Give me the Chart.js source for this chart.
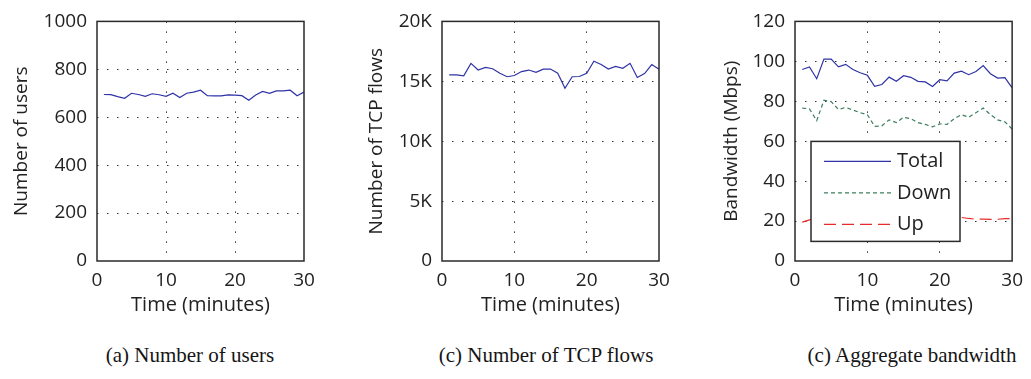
<!DOCTYPE html>
<html>
<head>
<meta charset="utf-8">
<script src="https://cdn.jsdelivr.net/npm/chart.js@4"></script>
<style>
  html, body { margin: 0; padding: 0; background: #fff; }
  body { width: 1031px; height: 379px; position: relative; overflow: hidden; }
  canvas { position: absolute; top: 0; }
  .cap { position: absolute; top: 342px; font: 21px "Liberation Serif", serif; color: #151515; line-height: 26px; white-space: nowrap; transform: translateX(-50%); }
</style>
</head>
<body>
<canvas id="c1" width="330" height="325" style="left:0px;width:330px;height:325px"></canvas>
<canvas id="c2" width="340" height="325" style="left:345px;width:340px;height:325px"></canvas>
<canvas id="c3" width="331" height="325" style="left:700px;width:331px;height:325px"></canvas>
<div class="cap" style="left:190px">(a) Number of users</div>
<div class="cap" style="left:546px">(c) Number of TCP flows</div>
<div class="cap" style="left:912px">(c) Aggregate bandwidth</div>
<script>
// ---- data ----
const minutes = [1,2,3,4,5,6,7,8,9,10,11,12,13,14,15,16,17,18,19,20,21,22,23,24,25,26,27,28,29,30];
const users = [695,694,686,679,700,695,687,698,694,687,700,682,700,705,713,690,689,689,693,692,690,671,693,708,700,710,710,713,690,705];
const tcpFlows = [15540,15540,15460,16500,15940,16160,16050,15670,15380,15480,15810,15940,15750,16020,16020,15670,14410,15380,15400,15670,16670,16400,16020,16240,16080,16500,15320,15650,16400,16000];
const bwTotal = [95.9,97.2,91.3,101.1,101.1,97.2,98.5,95.9,94.3,93.0,87.5,88.4,92.1,90.0,92.8,92.0,90.0,89.7,87.4,90.8,90.2,94.1,95.1,93.3,94.9,97.9,93.8,91.6,91.8,86.7];
const bwDown = [76.6,76.2,70.3,80.5,79.8,75.9,76.9,75.6,74.3,73.3,67.4,67.7,70.7,69.3,72.0,71.3,69.3,68.4,67.2,68.7,68.4,71.3,73.3,72.0,74.3,76.6,73.3,70.7,69.7,66.1];
const bwUp = [19.5,20.6,21.0,20.6,21.3,21.3,21.6,20.3,20.0,19.7,20.1,20.7,21.4,20.7,20.8,20.7,20.7,21.3,20.2,21.6,21.8,22.0,21.8,21.3,20.9,21.0,20.8,20.9,21.2,21.2];
const xTicks = [0,10,20,30];
const usersTicks = [0,200,400,600,800,1000];
const flowTicks = [0,5000,10000,15000,20000];
const flowTickLabels = ['0','5K','10K','15K','20K'];
const bwTicks = [0,20,40,60,80,100,120];
const seriesNames = ['Total','Down','Up'];
const xTitle = 'Time (minutes)';

// ---- styling helpers ----
const FONT = '"Open Sans", "Liberation Sans", sans-serif';
const INK = '#222222';
const BLUE = '#2f33a6';

const boxPlugin = {
  id: 'matlabBox',
  afterDraw(chart) {
    const {ctx, chartArea: a} = chart;
    ctx.save();
    ctx.strokeStyle = '#2a2a2a';
    ctx.lineWidth = 1.5;
    ctx.setLineDash([]);
    ctx.strokeRect(a.left, a.top, a.right - a.left, a.bottom - a.top);
    ctx.restore();
  }
};

const legendPlugin = {
  id: 'boxLegend',
  afterDatasetsDraw(chart) {
    const {ctx, chartArea: a} = chart;
    const x0 = a.left + 16, y0 = a.top + 120, w = 149, h = 100;
    ctx.save();
    ctx.fillStyle = '#ffffff';
    ctx.fillRect(x0, y0, w, h);
    ctx.strokeStyle = '#2a2a2a';
    ctx.lineWidth = 1.5;
    ctx.strokeRect(x0, y0, w, h);
    chart.data.datasets.forEach((ds, i) => {
      const y = y0 + 20 + i * 31.5;
      ctx.strokeStyle = ds.borderColor;
      ctx.lineWidth = ds.borderWidth;
      ctx.setLineDash(ds.borderDash || []);
      ctx.beginPath();
      ctx.moveTo(x0 + 13, y);
      ctx.lineTo(x0 + 80, y);
      ctx.stroke();
      ctx.setLineDash([]);
      ctx.fillStyle = INK;
      ctx.font = '20px ' + FONT;
      ctx.textBaseline = 'middle';
      ctx.textAlign = 'left';
      ctx.fillText(ds.label, x0 + 86, y);
    });
    ctx.restore();
  }
};

function gridColor(c) {
  const n = c.scale.ticks.length;
  return (c.index === 0 || c.index === n - 1) ? 'rgba(0,0,0,0)' : '#303030';
}

function makeChart(id, datasets, yCfg, axisWidth, yTitle, yTitlePad, rightPad, extraPlugins) {
  return new Chart(document.getElementById(id), {
    type: 'line',
    data: { datasets },
    options: {
      responsive: false,
      animation: false,
      events: [],
      layout: { padding: { top: 13, right: rightPad, bottom: 0, left: 0 } },
      elements: { point: { radius: 0 }, line: { tension: 0 } },
      plugins: { legend: { display: false }, tooltip: { enabled: false } },
      scales: {
        x: {
          type: 'linear', min: 0, max: 30,
          afterBuildTicks: s => { s.ticks = xTicks.map(v => ({ value: v })); },
          afterFit: s => { s.height = 64; },
          ticks: { color: INK, font: { family: FONT, size: 19 }, padding: 8, maxRotation: 0 },
          grid: { color: gridColor, lineWidth: 1, drawTicks: false },
          border: { display: false, dash: [1.5, 8.5] },
          title: { display: true, text: xTitle, color: INK, font: { family: FONT, size: 20 }, padding: { top: 0, bottom: 8 } }
        },
        y: {
          type: 'linear', min: yCfg.min, max: yCfg.max,
          afterBuildTicks: s => { s.ticks = yCfg.ticks.map(v => ({ value: v })); },
          afterFit: s => { s.width = axisWidth; },
          ticks: { color: INK, font: { family: FONT, size: 19 }, padding: 10, callback: yCfg.fmt },
          grid: { color: gridColor, lineWidth: 1, drawTicks: false },
          border: { display: false, dash: [1.5, 8.5] },
          title: { display: true, text: yTitle, color: INK, font: { family: FONT, size: 19 }, padding: { top: yTitlePad, bottom: 0 } }
        }
      }
    },
    plugins: [boxPlugin].concat(extraPlugins || [])
  });
}

function pts(xs, ys) { return xs.map((x, i) => ({ x, y: ys[i] })); }

makeChart('c1',
  [{ label: 'Users', data: pts(minutes, users), borderColor: BLUE, borderWidth: 1.2 }],
  { min: 0, max: 1000, ticks: usersTicks, fmt: v => String(v) },
  97, 'Number of users', 10.6, 26);

makeChart('c2',
  [{ label: 'TCP flows', data: pts(minutes, tcpFlows), borderColor: BLUE, borderWidth: 1.2 }],
  { min: 0, max: 20000, ticks: flowTicks, fmt: v => flowTickLabels[flowTicks.indexOf(v)] },
  97, 'Number of TCP flows', 20.6, 26);

makeChart('c3',
  [
    { label: seriesNames[0], data: pts(minutes, bwTotal), borderColor: BLUE, borderWidth: 1.2 },
    { label: seriesNames[1], data: pts(minutes, bwDown), borderColor: '#3f7f5f', borderWidth: 1.2, borderDash: [4, 3] },
    { label: seriesNames[2], data: pts(minutes, bwUp), borderColor: '#e82a2a', borderWidth: 1.2, borderDash: [12, 6] }
  ],
  { min: 0, max: 120, ticks: bwTicks, fmt: v => String(v) },
  95, 'Bandwidth (Mbps)', 20.6, 16, [legendPlugin]);
</script>
</body>
</html>
